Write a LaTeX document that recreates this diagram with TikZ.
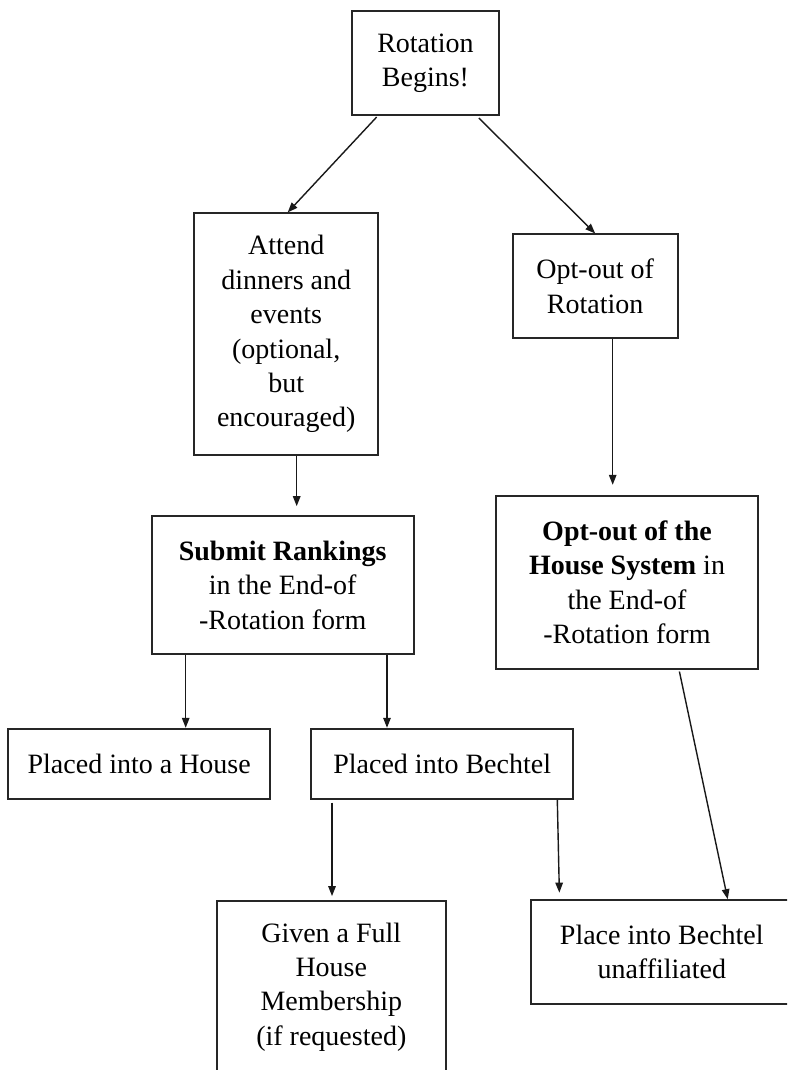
\documentclass[tikz,border=0pt]{standalone}
\usepackage{fontspec}
\setmainfont{Liberation Serif}
\usetikzlibrary{arrows.meta}
\begin{document}
\begin{tikzpicture}[x=1pt,y=-1pt,
  box/.style={draw=black!85, line width=1.8pt, inner sep=0pt, align=center,
    font=\fontsize{28}{34.4}\selectfont, text=black},
  arr/.style={draw=black!90, line width=1.4pt, -{Triangle[length=10pt,width=7.5pt]}}]
\useasboundingbox (0,0) rectangle (787,1070);
\clip (0,0) rectangle (787,1070);
\fill[white] (0,0) rectangle (787,1070);
\node[box, minimum width=147.6pt, minimum height=104pt] (rot) at (425.5,63) {Rotation\\Begins!};
\node[box, minimum width=184.3pt, minimum height=242pt] (att) at (286.2,334.3) {Attend\\dinners and\\events\\(optional,\\but\\encouraged)};
\node[box, minimum width=165pt, minimum height=103.7pt] (optrot) at (595.2,286.2) {Opt-out of\\Rotation};
\node[box, minimum width=262pt, minimum height=138.3pt] (sub) at (282.7,585.2) {\textbf{Submit Rankings}\\in the End-of\\-Rotation form};
\node[box, minimum width=262pt, minimum height=173pt] (opth) at (627,582.2) {\textbf{Opt-out of the}\\\textbf{House System} in\\the End-of\\-Rotation form};
\node[box, minimum width=262.3pt, minimum height=70pt] (house) at (139.2,763.7) {Placed into a House};
\node[box, minimum width=261.7pt, minimum height=70pt] (bech) at (442.2,763.7) {Placed into Bechtel};
\node[box, minimum width=229.3pt, minimum height=172pt] (given) at (331.3,987) {Given a Full\\House\\Membership\\(if requested)};
\node[box, minimum width=262.2pt, minimum height=103.7pt] (place) at (661.8,951.9) {Place into Bechtel\\unaffiliated};
\draw[arr, shorten <=1.5pt] ([xshift=-47.8pt]rot.south) -- ([xshift=1.5pt]att.north);
\draw[arr, shorten <=3pt] ([xshift=51.2pt]rot.south) -- ([xshift=0pt]optrot.north);
\draw[arr, shorten >=9pt] ([xshift=10.5pt]att.south) -- ([xshift=10.5pt]att.south |- sub.north);
\draw[arr, shorten >=10pt] ([xshift=17.5pt]optrot.south) -- ([xshift=17.5pt]optrot.south |- opth.north);
\draw[arr] ([xshift=-97pt]sub.south) -- ([xshift=-97pt]sub.south |- house.north);
\draw[arr] ([xshift=104.3pt]sub.south) -- ([xshift=104.3pt]sub.south |- bech.north);
\draw[arr, shorten <=3pt, shorten >=4pt] ([xshift=-110.2pt]bech.south) -- ([xshift=0.7pt]given.north);
\draw[arr, shorten >=6.5pt] ([xshift=115.1pt]bech.south) -- ([xshift=-102.3pt]place.north);
\draw[arr, shorten <=2pt] ([xshift=52pt]opth.south) -- ([xshift=65.9pt]place.north);
\end{tikzpicture}
\end{document}
